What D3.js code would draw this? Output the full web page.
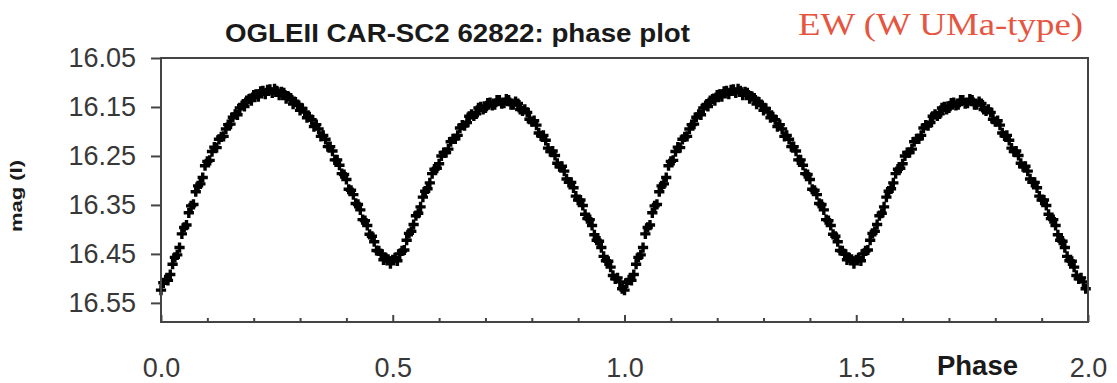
<!DOCTYPE html>
<html>
<head>
<meta charset="utf-8">
<script src="https://cdn.jsdelivr.net/npm/d3@7"></script>
<style>
  body { margin: 0; background: #fff; }
  .axis text { font-family: "Liberation Sans", Arial, sans-serif; fill: #383838; }
  .axis path { display: none; }
  .axis line { stroke: #444; stroke-width: 2; }
</style>
</head>
<body>
<svg></svg>
<script>
//phase and magnitude of the points for one cycle
var phases = [
  0.000, 0.005, 0.010, 0.015, 0.020, 0.025, 0.030, 0.035, 0.040, 0.045,
  0.050, 0.055, 0.060, 0.065, 0.070, 0.075, 0.080, 0.085, 0.090, 0.095,
  0.100, 0.105, 0.110, 0.115, 0.120, 0.125, 0.130, 0.135, 0.140, 0.145,
  0.150, 0.155, 0.160, 0.165, 0.170, 0.175, 0.180, 0.185, 0.190, 0.195,
  0.200, 0.205, 0.210, 0.215, 0.220, 0.225, 0.230, 0.235, 0.240, 0.245,
  0.250, 0.255, 0.260, 0.265, 0.270, 0.275, 0.280, 0.285, 0.290, 0.295,
  0.300, 0.305, 0.310, 0.315, 0.320, 0.325, 0.330, 0.335, 0.340, 0.345,
  0.350, 0.355, 0.360, 0.365, 0.370, 0.375, 0.380, 0.385, 0.390, 0.395,
  0.400, 0.405, 0.410, 0.415, 0.420, 0.425, 0.430, 0.435, 0.440, 0.445,
  0.450, 0.455, 0.460, 0.465, 0.470, 0.475, 0.480, 0.485, 0.490, 0.495,
  0.500, 0.505, 0.510, 0.515, 0.520, 0.525, 0.530, 0.535, 0.540, 0.545,
  0.550, 0.555, 0.560, 0.565, 0.570, 0.575, 0.580, 0.585, 0.590, 0.595,
  0.600, 0.605, 0.610, 0.615, 0.620, 0.625, 0.630, 0.635, 0.640, 0.645,
  0.650, 0.655, 0.660, 0.665, 0.670, 0.675, 0.680, 0.685, 0.690, 0.695,
  0.700, 0.705, 0.710, 0.715, 0.720, 0.725, 0.730, 0.735, 0.740, 0.745,
  0.750, 0.755, 0.760, 0.765, 0.770, 0.775, 0.780, 0.785, 0.790, 0.795,
  0.800, 0.805, 0.810, 0.815, 0.820, 0.825, 0.830, 0.835, 0.840, 0.845,
  0.850, 0.855, 0.860, 0.865, 0.870, 0.875, 0.880, 0.885, 0.890, 0.895,
  0.900, 0.905, 0.910, 0.915, 0.920, 0.925, 0.930, 0.935, 0.940, 0.945,
  0.950, 0.955, 0.960, 0.965, 0.970, 0.975, 0.980, 0.985, 0.990, 0.995
];
var mags = [
  16.524, 16.509, 16.503, 16.504, 16.492, 16.471, 16.457, 16.452, 16.437, 16.409,
  16.396, 16.391, 16.366, 16.352, 16.349, 16.323, 16.311, 16.307, 16.294, 16.270,
  16.261, 16.259, 16.241, 16.232, 16.233, 16.216, 16.211, 16.210, 16.195, 16.186,
  16.185, 16.171, 16.165, 16.166, 16.152, 16.147, 16.149, 16.137, 16.134, 16.137,
  16.126, 16.124, 16.129, 16.118, 16.117, 16.124, 16.115, 16.114, 16.121, 16.113,
  16.117, 16.126, 16.119, 16.121, 16.133, 16.129, 16.132, 16.144, 16.140, 16.145,
  16.157, 16.153, 16.160, 16.172, 16.170, 16.176, 16.190, 16.186, 16.195, 16.210,
  16.208, 16.216, 16.231, 16.231, 16.240, 16.258, 16.258, 16.269, 16.286, 16.288,
  16.298, 16.318, 16.320, 16.329, 16.347, 16.349, 16.360, 16.380, 16.382, 16.392,
  16.410, 16.414, 16.425, 16.443, 16.444, 16.450, 16.462, 16.458, 16.461, 16.470,
  16.462, 16.458, 16.464, 16.450, 16.444, 16.442, 16.422, 16.408, 16.404, 16.390,
  16.372, 16.367, 16.354, 16.334, 16.322, 16.317, 16.305, 16.286, 16.277, 16.275,
  16.266, 16.250, 16.243, 16.243, 16.236, 16.221, 16.215, 16.215, 16.208, 16.193,
  16.187, 16.188, 16.182, 16.169, 16.165, 16.168, 16.164, 16.152, 16.150, 16.155,
  16.152, 16.142, 16.141, 16.147, 16.145, 16.136, 16.136, 16.143, 16.142, 16.134,
  16.136, 16.145, 16.145, 16.139, 16.143, 16.155, 16.158, 16.155, 16.161, 16.175,
  16.180, 16.178, 16.187, 16.203, 16.209, 16.208, 16.218, 16.234, 16.241, 16.240,
  16.249, 16.265, 16.272, 16.271, 16.281, 16.297, 16.304, 16.304, 16.315, 16.332,
  16.340, 16.340, 16.351, 16.369, 16.378, 16.380, 16.392, 16.411, 16.422, 16.424,
  16.437, 16.455, 16.464, 16.465, 16.477, 16.494, 16.501, 16.499, 16.507, 16.521
];
//the plot shows the same cycle twice
var cycles = [0, 1];

var magTicks = [16.05, 16.15, 16.25, 16.35, 16.45, 16.55];
var phaseTicks = [0.0, 0.5, 1.0, 1.5, 2.0];
var phaseMinorTicks = [0.1, 0.2, 0.3, 0.4, 0.6, 0.7, 0.8, 0.9,
  1.1, 1.2, 1.3, 1.4, 1.6, 1.7, 1.8, 1.9];

var makeTranslateString = function (x, y) {
  return "translate(" + x + "," + y + ")";
};

var initGraph = function () {
  var screen = { width: 1117, height: 383 };
  var margins = { left: 161, right: 29, top: 58, bottom: 61 };
  var graph = {
    width: screen.width - margins.left - margins.right,
    height: screen.height - margins.top - margins.bottom
  };

  var svg = d3.select("svg").attr("width", screen.width).attr("height", screen.height);

  var phaseScale = d3.scaleLinear().domain([0, 2]).range([0, graph.width]);
  var magScale = d3.scaleLinear().domain([16.05, 16.589]).range([0, graph.height]);

  var points = [];
  cycles.forEach(function (c) {
    phases.forEach(function (p, i) {
      points.push({ phase: p + c, mag: mags[i] });
    });
  });

  var target = svg.append("g")
    .attr("id", "plot")
    .attr("transform", makeTranslateString(margins.left, margins.top));

  target.selectAll("path.pt")
    .data(points)
    .enter()
    .append("path")
    .attr("class", "pt")
    .attr("d", d3.symbol().type(d3.symbolCross).size(58))
    .attr("transform", function (d) {
      return makeTranslateString(phaseScale(d.phase), magScale(d.mag));
    })
    .attr("fill", "#000");

  //frame
  svg.append("rect")
    .attr("x", margins.left)
    .attr("y", margins.top)
    .attr("width", graph.width)
    .attr("height", graph.height)
    .attr("fill", "none")
    .attr("stroke", "#444")
    .attr("stroke-width", 2);

  var yAxis = d3.axisLeft(magScale)
    .tickValues(magTicks)
    .tickSize(10)
    .tickPadding(15)
    .tickFormat(d3.format(".2f"));
  svg.append("g")
    .attr("class", "axis")
    .attr("transform", makeTranslateString(margins.left, margins.top))
    .call(yAxis)
    .selectAll("text")
    .style("font-size", "27px");

  var xMinor = d3.axisBottom(phaseScale)
    .tickValues(phaseMinorTicks)
    .tickSize(-4)
    .tickFormat("");
  svg.append("g")
    .attr("class", "axis")
    .attr("transform", makeTranslateString(margins.left, margins.top + graph.height))
    .call(xMinor);

  var xAxis = d3.axisBottom(phaseScale)
    .tickValues(phaseTicks)
    .tickSize(-7)
    .tickPadding(36)
    .tickFormat(d3.format(".1f"));
  svg.append("g")
    .attr("class", "axis")
    .attr("transform", makeTranslateString(margins.left, margins.top + graph.height))
    .call(xAxis)
    .selectAll("text")
    .style("font-size", "27px");

  //labels
  svg.append("text")
    .attr("x", 225)
    .attr("y", 42)
    .attr("textLength", 465)
    .attr("lengthAdjust", "spacingAndGlyphs")
    .style("font-family", "'Liberation Sans', Arial, sans-serif")
    .style("font-weight", "bold")
    .style("font-size", "26px")
    .style("fill", "#1a1a1a")
    .text("OGLEII CAR-SC2 62822: phase plot");

  svg.append("text")
    .attr("x", 798)
    .attr("y", 35)
    .attr("textLength", 285)
    .attr("lengthAdjust", "spacingAndGlyphs")
    .style("font-family", "'Liberation Serif', 'Times New Roman', serif")
    .style("font-size", "31px")
    .style("fill", "#e6553f")
    .text("EW (W UMa-type)");

  svg.append("text")
    .attr("transform", "translate(22,196) rotate(-90)")
    .attr("text-anchor", "middle")
    .attr("textLength", 72)
    .attr("lengthAdjust", "spacingAndGlyphs")
    .style("font-family", "'Liberation Sans', Arial, sans-serif")
    .style("font-weight", "bold")
    .style("font-size", "16px")
    .style("fill", "#1a1a1a")
    .text("mag (I)");

  svg.append("text")
    .attr("x", 937)
    .attr("y", 375)
    .attr("textLength", 81)
    .attr("lengthAdjust", "spacingAndGlyphs")
    .style("font-family", "'Liberation Sans', Arial, sans-serif")
    .style("font-weight", "bold")
    .style("font-size", "27px")
    .style("fill", "#1a1a1a")
    .text("Phase");
};

initGraph();
</script>
</body>
</html>
